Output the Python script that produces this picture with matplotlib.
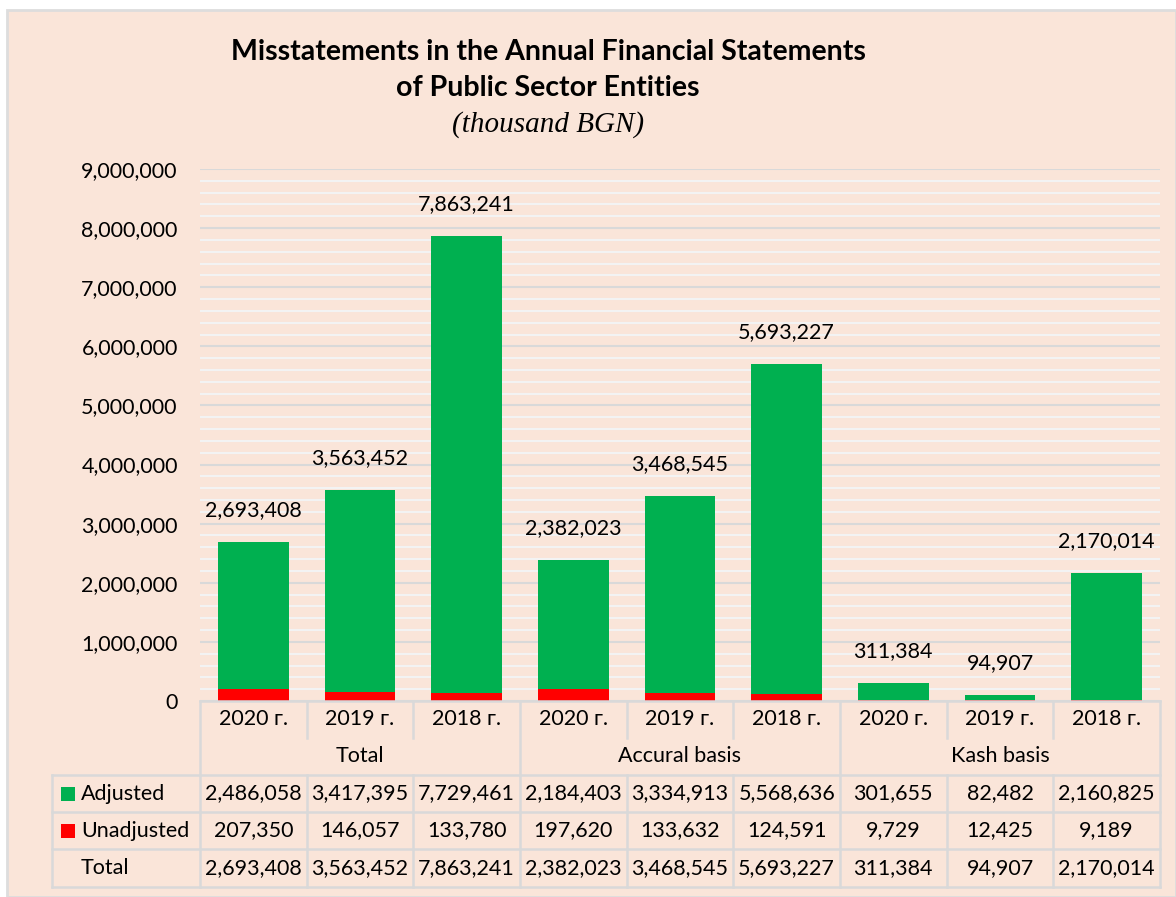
import matplotlib.pyplot as plt
import numpy as np
from matplotlib.ticker import MultipleLocator, FuncFormatter
from matplotlib.patches import Rectangle

# data
years = ["2020 г.", "2019 г.", "2018 г."] * 3
groups = ["Total", "Accural basis", "Kash basis"]
adjusted = [2486058, 3417395, 7729461, 2184403, 3334913, 5568636, 301655, 82482, 2160825]
unadjusted = [207350, 146057, 133780, 197620, 133632, 124591, 9729, 12425, 9189]
totals = [2693408, 3563452, 7863241, 2382023, 3468545, 5693227, 311384, 94907, 2170014]

BG = "#FAE5D9"
GREEN = "#00B050"
RED = "#FF0000"
LINE = "#D9D9D9"
FONT = "Lato"
FS = 15.5

W, H = 1176, 897
fig = plt.figure(figsize=(W / 100, H / 100), dpi=100)
fig.patch.set_facecolor("white")


def fx(px):
    return px / W


def fy(py):
    return 1 - py / H


# chart area background with thin border
fig.patches.append(Rectangle((fx(7), fy(897)), fx(1176 - 7), (897 - 10) / H,
                             transform=fig.transFigure, facecolor=BG, edgecolor="#DDDDDD",
                             lw=2, zorder=-1))

left, right, top, bottom = 200, 1160, 169, 701
ax = fig.add_axes([fx(left), fy(bottom), fx(right - left), (bottom - top) / H])
ax.patch.set_alpha(0)

x = np.arange(len(totals))
ax.bar(x, unadjusted, width=0.66, color=RED, zorder=3)
ax.bar(x, adjusted, width=0.66, bottom=unadjusted, color=GREEN, zorder=3)

for xi, t in zip(x, totals):
    ax.annotate(f"{t:,}", (xi, t), xytext=(0, 23), textcoords="offset points",
                ha="center", va="center", fontsize=FS, family=FONT)

ax.set_xlim(-0.5, len(totals) - 0.5)
ax.set_ylim(0, 9000000)
ax.yaxis.set_major_locator(MultipleLocator(1000000))
ax.yaxis.set_minor_locator(MultipleLocator(200000))
ax.yaxis.set_major_formatter(FuncFormatter(lambda v, p: f"{int(v):,}"))
ax.grid(which="minor", axis="y", color="#F3F3F3", lw=1.5, zorder=1)
ax.grid(which="major", axis="y", color=LINE, lw=1.5, zorder=1)
ax.set_xticks([])
ax.tick_params(axis="y", which="both", length=0, pad=16, labelsize=FS)
for lab in ax.get_yticklabels():
    lab.set_family(FONT)
for s in ax.spines.values():
    s.set_visible(False)

# table under the chart, in pixel coordinates
col_w = (right - left) / 9
cols = [left + i * col_w for i in range(10)]
rows = [701, 738, 775, 812, 849, 887]
lw = 1.8


def hline(y, x0, x1):
    fig.add_artist(plt.Line2D([fx(x0), fx(x1)], [fy(y), fy(y)], color=LINE, lw=lw))


def vline(xp, y0, y1):
    fig.add_artist(plt.Line2D([fx(xp), fx(xp)], [fy(y0), fy(y1)], color=LINE, lw=lw))


hline(701, left, right)
for y in rows[2:]:
    hline(y, 52, right)
for i, c in enumerate(cols):
    if i % 3 == 0:
        vline(c, 701, 887)
    else:
        vline(c, 701, 738)
        vline(c, 775, 887)
vline(52, 775, 887)

for i in range(9):
    cx = (cols[i] + cols[i + 1]) / 2
    fig.text(fx(cx), fy(719), years[i], ha="center", va="center", fontsize=FS, family=FONT)
    for r, series in enumerate([adjusted, unadjusted, totals]):
        cy = (rows[2 + r] + rows[3 + r]) / 2
        fig.text(fx(cx), fy(cy), f"{series[i]:,}", ha="center", va="center",
                 fontsize=FS, family=FONT)
for g, name in enumerate(groups):
    cx = (cols[3 * g] + cols[3 * g + 3]) / 2
    fig.text(fx(cx), fy(756), name, ha="center", va="center", fontsize=FS, family=FONT)

row_names = ["Adjusted", "Unadjusted", "Total"]
row_cols = [GREEN, RED, None]
for r, (name, c) in enumerate(zip(row_names, row_cols)):
    cy = (rows[2 + r] + rows[3 + r]) / 2
    if c:
        fig.patches.append(Rectangle((fx(61), fy(cy + 7)), fx(14), 14 / H,
                                     transform=fig.transFigure, facecolor=c, edgecolor="none"))
    fig.text(fx(81), fy(cy), name, ha="left", va="center", fontsize=FS, family=FONT)

fig.text(fx(548), fy(52), "Misstatements in the Annual Financial Statements",
         ha="center", va="center", fontsize=20.5, fontweight="bold", family=FONT)
fig.text(fx(548), fy(88), "of Public Sector Entities",
         ha="center", va="center", fontsize=20.5, fontweight="bold", family=FONT)
fig.text(fx(548), fy(125), "(thousand BGN)", ha="center", va="center", fontsize=21,
         style="italic", family="Liberation Serif")

fig.savefig("out.png", dpi=100, facecolor=fig.get_facecolor())
